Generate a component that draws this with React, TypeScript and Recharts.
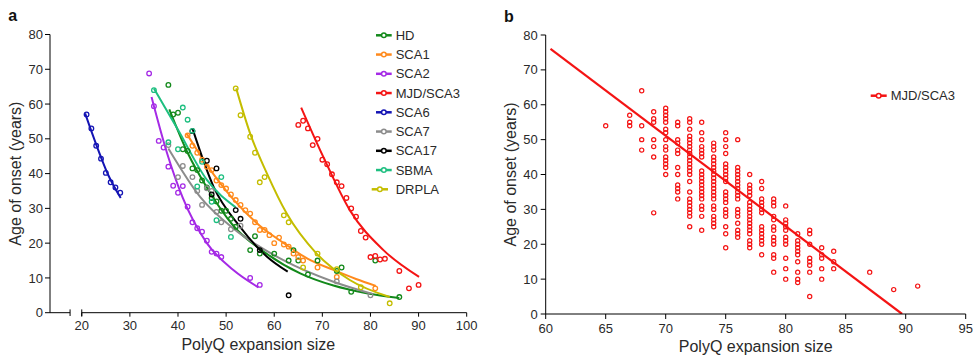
import React from 'react';
import { ComposedChart, XAxis, YAxis, Scatter, Line, ReferenceLine, Legend, Label } from 'recharts';

const FONT = '"Liberation Sans", Arial, Helvetica, sans-serif';
const TEXT = '#2a2a2a';

type Pt = [number, number];

// ---------- Panel a: observed points and fitted curves ----------
const hdPoints: Pt[] = [[38, 65.5], [39, 57], [40, 57.5], [41, 47], [42, 46.5], [43, 41.5], [44, 41], [45, 38], [46, 36], [47, 33], [48, 32], [49, 29.3], [50, 29.3], [51, 27], [52, 24.7], [55, 18], [56, 22], [57, 17], [60, 17], [63, 15], [64, 18], [65, 15], [67, 11], [69, 15], [73, 12], [74, 13], [76, 6], [81, 15], [86, 4.5]];
const hdFit: Pt[] = [[38.2, 58.5], [42, 46], [46, 36], [51.5, 25], [58.4, 17], [65.4, 11.3], [72.3, 7.8], [79.2, 5.6], [86, 4.2]];

const sca1Points: Pt[] = [[42, 51], [43, 48], [44, 46], [45, 44], [46, 42], [47, 41], [48, 38], [49, 36.7], [50, 35.7], [51, 34], [52, 32.4], [53, 31], [54, 29.5], [55, 28.5], [56, 26], [57, 23.8], [58, 23.8], [59, 22.3], [60, 20], [61, 21.6], [62, 19.6], [63, 19], [64, 17], [65, 16], [66, 15], [69, 13], [73, 10.3], [81, 7]];
const sca1Fit: Pt[] = [[41.8, 51.5], [46, 42.5], [51.5, 32.6], [57, 25], [62, 20], [67, 15.5], [72.3, 12.3], [77, 9.7], [81.1, 7.7]];

const sca2Points: Pt[] = [[34, 68.8], [35, 59.4], [36, 49.4], [37, 47.5], [38, 42], [39, 36.5], [40, 34.5], [41, 36.4], [42, 30.5], [43, 26], [44, 24.3], [45, 23.3], [46, 20.7], [47, 17.5], [48, 17], [49, 16], [55, 10], [57, 8]];
const sca2Fit: Pt[] = [[34.5, 62], [37.7, 46], [41, 33], [46, 20], [51.5, 12.3], [56.7, 7.3]];

const sca3Points: Pt[] = [[65, 54], [66, 55.2], [67, 53], [68, 48.2], [69, 50], [70, 44], [71, 42.7], [72, 39.8], [73, 37.5], [74, 36.4], [75, 33], [76, 30], [77, 27.6], [78, 23.5], [79, 21.6], [80, 16], [81, 16.3], [82, 15.3], [83, 15.5], [86, 12], [88, 7], [90, 8]];
const sca3Fit: Pt[] = [[65.6, 59], [70.2, 44.8], [75.7, 29.5], [82.7, 18], [90.1, 10.3]];

const sca6Points: Pt[] = [[21, 57], [22, 53], [23, 48], [24, 44.3], [25, 40.2], [26, 37.5], [27, 36], [28, 34.5]];
const sca6Fit: Pt[] = [[20.7, 57.3], [23.1, 48], [25.5, 39.6], [28.1, 33]];

const sca7Points: Pt[] = [[38, 48.2], [40, 39], [41, 42.2], [43, 39], [44, 35], [45, 31], [46, 35.8], [47, 35], [48, 29], [49, 26], [51, 24], [53, 25], [73, 9], [80, 5]];
const sca7Fit: Pt[] = [[38, 47.2], [44.6, 33.3], [51.5, 24.2], [61.9, 15.1], [72.3, 8.9], [79.9, 5.6]];

const sca17Points: Pt[] = [[43, 52.2], [46, 43.7], [47, 34], [48, 41.5], [52, 29.5], [53, 27], [57, 18], [63, 5]];
const sca17Fit: Pt[] = [[43, 53], [47.4, 36.2], [52.9, 24.7], [58.5, 16.1], [62.8, 11.8]];

const sbmaPoints: Pt[] = [[35, 64], [38, 49], [40, 47], [41, 59], [42, 55.5], [43, 52.3], [44, 36.3], [45, 43.4], [47, 31.9], [48, 26.6], [49, 39], [51, 21.8]];
const sbmaFit: Pt[] = [[35, 64.5], [40, 52.6], [46, 38.2], [52, 30.3]];

const drplaPoints: Pt[] = [[52, 64.5], [53, 56.8], [55, 50.6], [56, 46], [57, 37.5], [58, 39], [62, 28], [63, 26], [66, 13], [69, 17], [73, 12.5], [78, 7.3], [84, 2.7]];
const drplaFit: Pt[] = [[52.1, 64.5], [55, 51.5], [58.5, 40], [62.6, 28.5], [68.8, 17], [75.7, 9.4], [84, 4.5]];

const seriesNames = ['HD', 'SCA1', 'SCA2', 'MJD/SCA3', 'SCA6', 'SCA7', 'SCA17', 'SBMA', 'DRPLA'];
const seriesColors = ['#13891b', '#ff8a1c', '#a52ae6', '#f41414', '#1414b4', '#8c8c8c', '#000000', '#1ebf80', '#c4bd00'];
const seriesPoints = [hdPoints, sca1Points, sca2Points, sca3Points, sca6Points, sca7Points, sca17Points, sbmaPoints, drplaPoints];
const seriesFits = [hdFit, sca1Fit, sca2Fit, sca3Fit, sca6Fit, sca7Fit, sca17Fit, sbmaFit, drplaFit];

const xTicksA = [20, 30, 40, 50, 60, 70, 80, 90, 100];
const yTicks = [0, 10, 20, 30, 40, 50, 60, 70, 80];

// ---------- Panel b: MJD/SCA3 cohort ----------
const cohortColumns: [number, number[]][] = [
  [65, [54]],
  [67, [57, 55, 54]],
  [68, [64, 54, 50, 47]],
  [69, [58, 56, 55, 50, 48, 45, 29]],
  [70, [59, 58, 57, 56, 55, 53, 52, 50, 48, 47, 45, 44, 43, 42, 40]],
  [71, [55, 54, 50, 49, 47, 46, 42, 40, 37, 36, 35, 33]],
  [72, [56, 55, 53, 51, 50, 49, 48, 47, 46, 45, 44, 43, 42, 41, 40, 38, 35, 33, 32, 31, 30, 29, 28, 25]],
  [73, [55, 52, 50, 48, 47, 46, 45, 41, 40, 39, 38, 37, 36, 35, 34, 33, 31, 30, 28, 24]],
  [74, [49, 48, 47, 45, 44, 43, 42, 41, 40, 39, 38, 37, 36, 35, 34, 33, 31, 30, 28, 27, 26, 25]],
  [75, [52, 50, 48, 46, 43, 42, 41, 40, 39, 38, 35, 34, 33, 32, 30, 29, 28, 25, 23, 19]],
  [76, [50, 42, 41, 40, 39, 38, 37, 36, 35, 34, 33, 30, 29, 28, 26, 24, 23, 22]],
  [77, [40, 37, 36, 35, 34, 32, 31, 30, 29, 28, 27, 26, 25, 24, 23, 21, 20, 19]],
  [78, [38, 36, 33, 32, 31, 30, 29, 25, 24, 23, 22, 21, 20, 17]],
  [79, [33, 32, 31, 28, 27, 25, 24, 22, 21, 20, 17, 16, 12]],
  [80, [31, 27, 26, 25, 24, 22, 21, 20, 16, 13, 10]],
  [81, [23, 21, 20, 19, 18, 17, 15, 12, 10, 9]],
  [82, [24, 23, 20, 16, 15, 14, 12, 5]],
  [83, [19, 17, 16, 13, 10]],
  [84, [18, 15, 13]],
  [87, [12]],
  [89, [7]],
  [91, [8]],
];
const cohortFit: Pt[] = [[60.4, 76], [89.7, 0]];
const xTicksB = [60, 65, 70, 75, 80, 85, 90, 95];
const cohortColor = '#f41414';

const toXY = (a: Pt[]) => a.map(([x, y]) => ({ x, y }));
const cohortPoints = cohortColumns.flatMap(([x, ys]) => ys.map((y) => ({ x, y })));

const hollow = (color: string, r: number, sw: number) => (props: any) =>
  <circle cx={props.cx} cy={props.cy} r={r} fill="none" stroke={color} strokeWidth={sw} />;

const tickStyle = { fontSize: 13, fill: TEXT, fontFamily: FONT };
const labelStyle = { fontSize: 16, fill: TEXT, fontFamily: FONT };

const LegendA = () => (
  <svg width={120} height={185} style={{ display: 'block' }}>
    {seriesNames.map((name, i) => {
      const cy = 10.3 + i * 19.25;
      const dr = name === 'DRPLA';
      const x1 = dr ? 6.7 : 11;
      const x2 = dr ? 23 : 26.7;
      return (
        <g key={name}>
          <line x1={x1} x2={x2} y1={cy} y2={cy} stroke={seriesColors[i]} strokeWidth={2.5} />
          <circle cx={(x1 + x2) / 2} cy={cy} r={2.3} fill="#fff" stroke={seriesColors[i]} strokeWidth={1.5} />
          <text x={30.7} y={cy + 4.6} fontSize={13} fontFamily={FONT} fill={TEXT}>{name}</text>
        </g>
      );
    })}
  </svg>
);

const LegendB = () => (
  <svg width={100} height={22} style={{ display: 'block' }}>
    <line x1={5.7} x2={21.7} y1={10.7} y2={10.7} stroke={cohortColor} strokeWidth={2.5} />
    <circle cx={13.7} cy={10.7} r={2.3} fill="#fff" stroke={cohortColor} strokeWidth={1.5} />
    <text x={25.7} y={15.3} fontSize={13} fontFamily={FONT} fill={TEXT}>MJD/SCA3</text>
  </svg>
);

const PanelA = () => (
  <ComposedChart width={480} height={355} margin={{ top: 34.5, right: 13.3, bottom: 0, left: 0 }}>
    <XAxis type="number" dataKey="x" domain={[13.4, 100]} ticks={xTicksA} allowDataOverflow interval={0}
      axisLine={false} tickLine={{ stroke: '#000' }} tickSize={4} tickMargin={4} height={42.3} tick={tickStyle}>
      <Label value="PolyQ expansion size" position="insideBottom" offset={5} style={labelStyle} />
    </XAxis>
    <YAxis type="number" dataKey="y" domain={[0, 80]} ticks={yTicks} allowDataOverflow interval={0} width={50}
      axisLine={{ stroke: '#000' }} tickLine={{ stroke: '#000' }} tickSize={5} tickMargin={2} tick={tickStyle}>
      <Label value="Age of onset (years)" angle={-90} position="insideLeft" offset={15} style={{ ...labelStyle, textAnchor: 'middle' }} />
    </YAxis>
    <ReferenceLine segment={[{ x: 13.4, y: 0 }, { x: 17.57, y: 0 }]} stroke="#000" ifOverflow="visible" />
    <ReferenceLine segment={[{ x: 20, y: 0 }, { x: 100, y: 0 }]} stroke="#000" ifOverflow="visible" />
    <ReferenceLine segment={[{ x: 17.57, y: -0.95 }, { x: 17.57, y: 0.95 }]} stroke="#000" ifOverflow="visible" />
    <ReferenceLine segment={[{ x: 20, y: -0.95 }, { x: 20, y: 0.95 }]} stroke="#000" ifOverflow="visible" />
    {seriesNames.map((name, i) => (
      <Line key={'fit-' + name} data={toXY(seriesFits[i])} dataKey="y" type="monotone" stroke={seriesColors[i]}
        strokeWidth={2} dot={false} activeDot={false} isAnimationActive={false} legendType="none" />
    ))}
    {seriesNames.map((name, i) => (
      <Scatter key={'pts-' + name} name={name} data={toXY(seriesPoints[i])} dataKey="y"
        shape={hollow(seriesColors[i], 2.3, 1.3)} isAnimationActive={false} />
    ))}
    <Legend layout="vertical" align="center" verticalAlign="middle" content={LegendA}
      wrapperStyle={{ left: 365, top: 25, width: 120, height: 185 }} />
  </ComposedChart>
);

const PanelB = () => (
  <ComposedChart width={499} height={355} margin={{ top: 35, right: 13.3, bottom: 0, left: 0 }}>
    <XAxis type="number" dataKey="x" domain={[60, 95]} ticks={xTicksB} allowDataOverflow interval={0}
      axisLine={{ stroke: '#000' }} tickLine={{ stroke: '#000' }} tickSize={5} tickMargin={5} height={41} tick={tickStyle}>
      <Label value="PolyQ expansion size" position="insideBottom" offset={3} style={labelStyle} />
    </XAxis>
    <YAxis type="number" dataKey="y" domain={[0, 80]} ticks={yTicks} allowDataOverflow interval={0} width={65.7}
      axisLine={{ stroke: '#000' }} tickLine={{ stroke: '#000' }} tickSize={5} tickMargin={3} tick={tickStyle}>
      <Label value="Age of onset (years)" angle={-90} position="insideLeft" offset={30} style={{ ...labelStyle, textAnchor: 'middle' }} />
    </YAxis>
    <Line data={toXY(cohortFit)} dataKey="y" type="linear" stroke={cohortColor} strokeWidth={2.2}
      dot={false} activeDot={false} isAnimationActive={false} legendType="none" />
    <Scatter name="MJD/SCA3" data={cohortPoints} dataKey="y" shape={hollow(cohortColor, 2.1, 1.2)} isAnimationActive={false} />
    <Legend layout="vertical" align="center" verticalAlign="middle" content={LegendB}
      wrapperStyle={{ left: 385, top: 85, width: 100, height: 22 }} />
  </ComposedChart>
);

export default function App() {
  return (
    <div style={{ position: 'absolute', left: 0, top: 0, width: 979, height: 355, background: '#fff', overflow: 'hidden' }}>
      <div style={{ position: 'absolute', left: 0, top: 0 }}>
        <PanelA />
      </div>
      <div style={{ position: 'absolute', left: 480, top: 0 }}>
        <PanelB />
      </div>
      <svg width={979} height={355} style={{ position: 'absolute', left: 0, top: 0, pointerEvents: 'none' }}>
        <text x={8.3} y={20.7} fontSize={16} fontWeight="bold" fontFamily={FONT} fill="#111">a</text>
        <text x={504} y={21.7} fontSize={16} fontWeight="bold" fontFamily={FONT} fill="#111">b</text>
      </svg>
    </div>
  );
}
